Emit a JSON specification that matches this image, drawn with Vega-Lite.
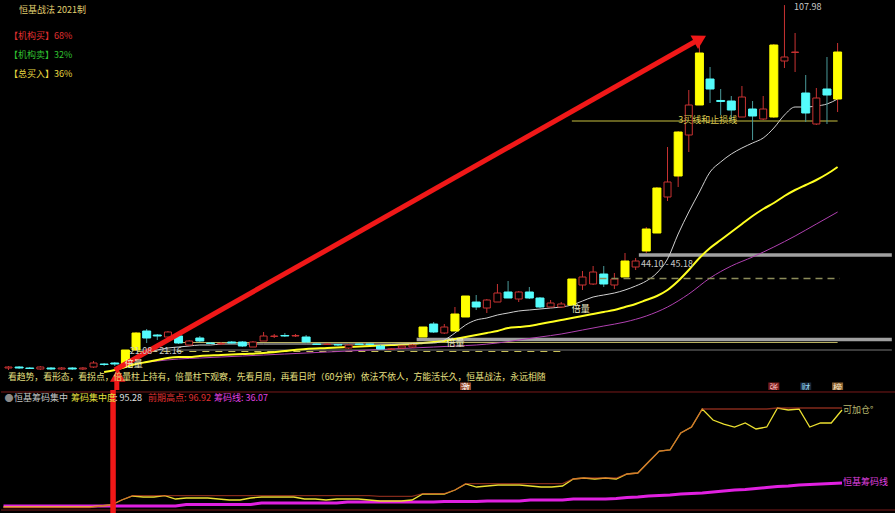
{
  "$schema": "https://vega.github.io/schema/vega-lite/v6.json",
  "background": "#000000",
  "padding": 0,
  "spacing": 0,
  "bounds": "flush",
  "config": {
    "view": {"stroke": null},
    "legend": {"disable": true},
    "text": {"font": "Noto Sans CJK SC", "fontSize": 9, "align": "left", "baseline": "middle"}
  },
  "datasets": {
    "candles": [
      {"i":0,"o":17.25,"c":17.5,"h":17.75,"l":16.75,"t":"up"},
      {"i":1,"o":17.5,"c":17.25,"h":17.75,"l":17.0,"t":"down"},
      {"i":2,"o":17.25,"c":17.13,"h":17.5,"l":17.0,"t":"down"},
      {"i":3,"o":17.0,"c":17.5,"h":17.75,"l":16.75,"t":"up"},
      {"i":4,"o":17.25,"c":17.0,"h":17.5,"l":16.75,"t":"down"},
      {"i":5,"o":17.0,"c":17.25,"h":17.5,"l":16.75,"t":"up"},
      {"i":6,"o":17.25,"c":17.0,"h":17.5,"l":16.75,"t":"down"},
      {"i":7,"o":17.0,"c":17.25,"h":17.5,"l":16.75,"t":"up"},
      {"i":8,"o":17.5,"c":18.5,"h":19.0,"l":17.25,"t":"up"},
      {"i":9,"o":18.25,"c":18.13,"h":18.5,"l":17.75,"t":"down"},
      {"i":10,"o":18.5,"c":18.25,"h":18.75,"l":17.75,"t":"down"},
      {"i":11,"o":17.75,"c":21.75,"h":21.75,"l":17.5,"t":"hot"},
      {"i":12,"o":21.75,"c":26.0,"h":26.25,"l":21.5,"t":"hot"},
      {"i":13,"o":26.5,"c":24.75,"h":27.0,"l":23.5,"t":"down"},
      {"i":14,"o":25.5,"c":25.25,"h":25.75,"l":24.25,"t":"down"},
      {"i":15,"o":25.0,"c":26.25,"h":26.5,"l":24.75,"t":"up"},
      {"i":16,"o":25.25,"c":23.5,"h":25.5,"l":23.25,"t":"down"},
      {"i":17,"o":23.0,"c":24.0,"h":24.25,"l":22.75,"t":"up"},
      {"i":18,"o":24.75,"c":24.0,"h":25.25,"l":23.75,"t":"down"},
      {"i":19,"o":23.5,"c":23.38,"h":23.75,"l":23.25,"t":"down"},
      {"i":20,"o":23.25,"c":23.38,"h":23.75,"l":23.0,"t":"up"},
      {"i":21,"o":23.75,"c":23.5,"h":24.0,"l":23.25,"t":"down"},
      {"i":22,"o":23.75,"c":22.75,"h":24.0,"l":22.5,"t":"down"},
      {"i":23,"o":22.5,"c":23.75,"h":24.0,"l":22.5,"t":"up"},
      {"i":24,"o":24.0,"c":25.25,"h":26.25,"l":24.0,"t":"up"},
      {"i":25,"o":25.13,"c":25.25,"h":25.75,"l":24.75,"t":"up"},
      {"i":26,"o":25.38,"c":25.25,"h":26.0,"l":25.0,"t":"down"},
      {"i":27,"o":25.25,"c":25.38,"h":25.75,"l":25.0,"t":"up"},
      {"i":28,"o":25.0,"c":23.75,"h":25.5,"l":23.5,"t":"down"},
      {"i":29,"o":23.25,"c":23.13,"h":23.5,"l":23.0,"t":"down"},
      {"i":30,"o":23.13,"c":23.25,"h":23.5,"l":23.0,"t":"up"},
      {"i":31,"o":23.13,"c":23.0,"h":23.25,"l":22.75,"t":"down"},
      {"i":32,"o":22.25,"c":23.0,"h":23.25,"l":22.0,"t":"up"},
      {"i":33,"o":23.25,"c":23.13,"h":23.5,"l":23.0,"t":"down"},
      {"i":34,"o":23.25,"c":23.13,"h":23.5,"l":23.0,"t":"down"},
      {"i":35,"o":22.75,"c":22.0,"h":23.0,"l":21.75,"t":"down"},
      {"i":36,"o":21.88,"c":22.0,"h":22.25,"l":21.75,"t":"up"},
      {"i":37,"o":22.25,"c":22.75,"h":23.0,"l":22.0,"t":"up"},
      {"i":38,"o":22.5,"c":23.0,"h":23.25,"l":22.25,"t":"up"},
      {"i":39,"o":25.0,"c":27.5,"h":27.5,"l":25.0,"t":"hot"},
      {"i":40,"o":28.25,"c":26.25,"h":28.75,"l":26.0,"t":"down"},
      {"i":41,"o":26.0,"c":27.5,"h":28.25,"l":25.75,"t":"up"},
      {"i":42,"o":26.5,"c":30.75,"h":32.5,"l":26.5,"t":"hot"},
      {"i":43,"o":30.0,"c":35.25,"h":35.25,"l":30.0,"t":"hot"},
      {"i":44,"o":33.75,"c":32.5,"h":35.5,"l":31.75,"t":"down"},
      {"i":45,"o":32.25,"c":34.25,"h":34.5,"l":31.0,"t":"up"},
      {"i":46,"o":33.75,"c":36.0,"h":38.25,"l":33.75,"t":"up"},
      {"i":47,"o":36.25,"c":34.75,"h":39.0,"l":34.75,"t":"down"},
      {"i":48,"o":34.5,"c":36.25,"h":36.5,"l":33.75,"t":"up"},
      {"i":49,"o":36.25,"c":34.75,"h":37.5,"l":34.5,"t":"down"},
      {"i":50,"o":34.75,"c":32.5,"h":35.0,"l":32.25,"t":"down"},
      {"i":51,"o":32.5,"c":33.5,"h":34.25,"l":32.5,"t":"up"},
      {"i":52,"o":32.5,"c":33.25,"h":33.75,"l":32.25,"t":"up"},
      {"i":53,"o":33.0,"c":39.5,"h":39.5,"l":33.0,"t":"hot"},
      {"i":54,"o":38.0,"c":40.0,"h":41.5,"l":36.75,"t":"up"},
      {"i":55,"o":38.25,"c":41.25,"h":42.75,"l":38.0,"t":"up"},
      {"i":56,"o":40.75,"c":38.25,"h":42.75,"l":37.5,"t":"down"},
      {"i":57,"o":38.0,"c":39.5,"h":41.0,"l":37.0,"t":"up"},
      {"i":58,"o":40.0,"c":44.0,"h":46.0,"l":40.0,"t":"hot"},
      {"i":59,"o":42.5,"c":44.0,"h":44.75,"l":41.75,"t":"up"},
      {"i":60,"o":46.5,"c":52.0,"h":52.5,"l":46.0,"t":"hot"},
      {"i":61,"o":51.0,"c":62.25,"h":62.5,"l":51.0,"t":"hot"},
      {"i":62,"o":60.0,"c":63.75,"h":72.5,"l":59.0,"t":"up"},
      {"i":63,"o":65.25,"c":76.25,"h":76.5,"l":62.5,"t":"hot"},
      {"i":64,"o":75.5,"c":83.0,"h":86.75,"l":71.25,"t":"up"},
      {"i":65,"o":83.0,"c":96.0,"h":98.5,"l":83.0,"t":"hot"},
      {"i":66,"o":89.5,"c":87.0,"h":92.5,"l":83.5,"t":"down"},
      {"i":67,"o":84.13,"c":83.88,"h":87.0,"l":80.5,"t":"down"},
      {"i":68,"o":84.0,"c":81.75,"h":85.25,"l":79.25,"t":"down"},
      {"i":69,"o":80.0,"c":85.0,"h":87.75,"l":80.0,"t":"up"},
      {"i":70,"o":82.0,"c":80.25,"h":84.0,"l":74.25,"t":"down"},
      {"i":71,"o":79.5,"c":82.0,"h":85.25,"l":79.25,"t":"up"},
      {"i":72,"o":80.0,"c":98.0,"h":98.25,"l":79.75,"t":"hot"},
      {"i":73,"o":94.0,"c":95.0,"h":107.98,"l":92.25,"t":"up"},
      {"i":74,"o":96.13,"c":96.25,"h":101.0,"l":91.25,"t":"up"},
      {"i":75,"o":86.0,"c":81.0,"h":90.5,"l":78.75,"t":"down"},
      {"i":76,"o":78.25,"c":84.75,"h":87.25,"l":78.0,"t":"up"},
      {"i":77,"o":87.0,"c":85.5,"h":95.0,"l":78.25,"t":"down"},
      {"i":78,"o":84.5,"c":96.25,"h":98.5,"l":81.25,"t":"hot"}
    ],
    "whiteMA": [
      {"i":12,"v":20.25},{"i":13,"v":21.25},{"i":14,"v":21.75},{"i":15,"v":22.25},{"i":16,"v":22.5},
      {"i":17,"v":22.75},{"i":18,"v":23.0},{"i":19,"v":23.0},{"i":20,"v":23.25},{"i":24,"v":23.25},
      {"i":28,"v":23.25},{"i":32,"v":23.25},{"i":36,"v":23.25},{"i":38,"v":23.3},{"i":39,"v":23.5},
      {"i":40,"v":23.5},{"i":41,"v":24.25},{"i":42,"v":26.0},{"i":43,"v":28.0},{"i":44,"v":29.25},
      {"i":45,"v":29.75},{"i":46,"v":30.5},{"i":47,"v":31.0},{"i":48,"v":31.5},{"i":49,"v":31.75},
      {"i":50,"v":32.0},{"i":51,"v":32.25},{"i":52,"v":32.5},{"i":53,"v":33.0},{"i":54,"v":34.0},
      {"i":55,"v":35.0},{"i":56,"v":35.5},{"i":57,"v":36.0},{"i":58,"v":36.75},{"i":59,"v":37.75},
      {"i":60,"v":39.0},{"i":61,"v":41.0},{"i":62,"v":44.5},{"i":63,"v":50.75},{"i":64,"v":56.25},
      {"i":65,"v":61.25},{"i":66,"v":66.25},{"i":67,"v":68.75},{"i":68,"v":70.75},{"i":69,"v":72.25},
      {"i":70,"v":73.5},{"i":71,"v":74.75},{"i":72,"v":77.25},{"i":73,"v":80.5},{"i":74,"v":82.5},
      {"i":75,"v":82.5},{"i":76,"v":82.75},{"i":77,"v":83.25},{"i":78,"v":84.5}
    ],
    "yellowMA": [
      {"i":9,"v":16.25},{"i":10,"v":16.75},{"i":11,"v":17.5},{"i":12,"v":18.25},{"i":13,"v":18.75},
      {"i":14,"v":19.25},{"i":15,"v":19.75},{"i":16,"v":20.0},{"i":17,"v":20.0},{"i":18,"v":20.25},
      {"i":20,"v":20.5},{"i":22,"v":20.75},{"i":24,"v":21.0},{"i":26,"v":21.5},{"i":28,"v":22.0},
      {"i":30,"v":22.25},{"i":32,"v":22.5},{"i":34,"v":22.75},{"i":36,"v":23.0},{"i":38,"v":23.25},
      {"i":39,"v":23.5},{"i":40,"v":23.75},{"i":41,"v":24.0},{"i":42,"v":24.5},{"i":43,"v":25.0},
      {"i":44,"v":25.5},{"i":45,"v":26.0},{"i":46,"v":26.5},{"i":47,"v":27.25},{"i":48,"v":27.5},
      {"i":49,"v":27.75},{"i":50,"v":28.25},{"i":51,"v":28.75},{"i":52,"v":29.25},{"i":53,"v":29.75},
      {"i":54,"v":30.25},{"i":55,"v":30.75},{"i":56,"v":31.25},{"i":57,"v":31.75},{"i":58,"v":32.5},
      {"i":59,"v":33.25},{"i":60,"v":34.25},{"i":61,"v":35.25},{"i":62,"v":36.75},{"i":63,"v":39.0},
      {"i":64,"v":41.75},{"i":65,"v":44.75},{"i":66,"v":47.25},{"i":67,"v":49.25},{"i":68,"v":51.25},
      {"i":69,"v":53.25},{"i":70,"v":55.25},{"i":71,"v":57.0},{"i":72,"v":58.5},{"i":73,"v":60.25},
      {"i":74,"v":61.75},{"i":75,"v":63.0},{"i":76,"v":64.25},{"i":77,"v":65.75},{"i":78,"v":67.5}
    ],
    "purpleMA": [
      {"i":11,"v":17.5},{"i":12,"v":18.25},{"i":14,"v":19.0},{"i":16,"v":19.5},{"i":18,"v":19.75},
      {"i":20,"v":20.0},{"i":22,"v":20.25},{"i":24,"v":20.5},{"i":26,"v":20.75},{"i":28,"v":21.0},
      {"i":30,"v":21.25},{"i":32,"v":21.5},{"i":34,"v":21.75},{"i":36,"v":22.0},{"i":38,"v":22.25},
      {"i":40,"v":22.5},{"i":42,"v":22.75},{"i":44,"v":23.0},{"i":46,"v":23.5},{"i":48,"v":24.25},
      {"i":50,"v":25.0},{"i":52,"v":25.75},{"i":54,"v":26.75},{"i":56,"v":27.75},{"i":58,"v":28.75},
      {"i":60,"v":30.25},{"i":62,"v":32.5},{"i":64,"v":35.75},{"i":66,"v":39.75},{"i":68,"v":42.75},
      {"i":70,"v":45.0},{"i":72,"v":47.5},{"i":74,"v":50.25},{"i":76,"v":53.25},{"i":78,"v":56.25}
    ],
    "levels": [
      {"start":59.3,"end":83.1,"p":45.5,"kind":"band"},
      {"start":38.4,"end":83.1,"p":24.375,"kind":"band"},
      {"start":53.0,"end":78.0,"p":79.0,"kind":"stop"},
      {"start":16.0,"end":78.0,"p":23.625,"kind":"guide"},
      {"start":11.6,"end":83.1,"p":21.75,"kind":"base"},
      {"start":55.6,"end":78.2,"p":39.625,"kind":"dashA"},
      {"start":10.9,"end":52.3,"p":21.375,"kind":"dashB"}
    ],
    "shafts": [
      {"i":10.0,"p":16.75,"i2":64.7,"p2":99.0},
      {"i":10.19,"p":14.25,"i2":10.19,"p2":11.75}
    ],
    "heads": [
      {"i":65.07,"p":99.52,"dir":61},
      {"i":10.28,"p":15.5,"dir":0}
    ],
    "tags": [
      {"i":43,"p":12.25,"text":"激"},
      {"i":72,"p":12.25,"text":"张"},
      {"i":75,"p":12.25,"text":"财"},
      {"i":78,"p":12.25,"text":"榜"}
    ],
    "notes": [
      {"i":0.98,"p":106.75,"text":"恒基战法 2021制","kind":"title"},
      {"i":0.05,"p":100.25,"text":"【机构买】68%","kind":"buy"},
      {"i":0.05,"p":95.5,"text":"【机构卖】32%","kind":"sell"},
      {"i":0.05,"p":90.75,"text":"【总买入】36%","kind":"total"},
      {"i":73.9,"p":107.5,"text":"107.98","kind":"price"},
      {"i":63.0,"p":79.25,"text":"3买线和止损线","kind":"note"},
      {"i":59.5,"p":43.25,"text":"44.10 - 45.18","kind":"price"},
      {"i":53.0,"p":32.0,"text":"倍量","kind":"vol"},
      {"i":41.2,"p":23.5,"text":"倍量","kind":"vol"},
      {"i":10.93,"p":18.25,"text":"倍量","kind":"vol"},
      {"i":11.4,"p":21.55,"text":"21.08 - 21.16","kind":"price"},
      {"i":-0.05,"p":15.0,"text":"看趋势，看形态，看拐点，倍量柱上持有，倍量柱下观察，先看月周，再看日时（60分钟）依法不依人，方能活长久，恒基战法，永远相随","kind":"motto"}
    ],
    "ind": [
      {"i":0,"conc":16.6,"high":16.19,"chip":17.41},
      {"i":1,"conc":16.6,"high":16.19,"chip":17.41},
      {"i":2,"conc":16.6,"high":16.19,"chip":17.41},
      {"i":3,"conc":16.6,"high":16.19,"chip":17.41},
      {"i":4,"conc":16.6,"high":16.19,"chip":17.41},
      {"i":5,"conc":16.6,"high":16.19,"chip":17.41},
      {"i":6,"conc":16.6,"high":16.19,"chip":17.41},
      {"i":7,"conc":16.6,"high":16.19,"chip":17.41},
      {"i":8,"conc":16.6,"high":16.19,"chip":17.41},
      {"i":9,"conc":17.41,"high":17.41,"chip":17.41},
      {"i":10,"conc":18.22,"high":18.22,"chip":17.41},
      {"i":11,"conc":22.28,"high":22.28,"chip":17.41},
      {"i":12,"conc":25.52,"high":25.77,"chip":17.41},
      {"i":13,"conc":24.71,"high":25.77,"chip":17.41},
      {"i":14,"conc":24.71,"high":25.77,"chip":17.41},
      {"i":15,"conc":25.77,"high":25.77,"chip":17.41},
      {"i":16,"conc":23.09,"high":25.77,"chip":17.41},
      {"i":17,"conc":23.9,"high":25.77,"chip":18.63},
      {"i":18,"conc":23.9,"high":25.77,"chip":18.63},
      {"i":19,"conc":23.9,"high":25.77,"chip":18.63},
      {"i":20,"conc":23.09,"high":25.77,"chip":18.63},
      {"i":21,"conc":22.28,"high":25.77,"chip":18.63},
      {"i":22,"conc":22.28,"high":25.77,"chip":18.63},
      {"i":23,"conc":23.9,"high":25.77,"chip":18.63},
      {"i":24,"conc":24.71,"high":25.77,"chip":19.84},
      {"i":25,"conc":24.71,"high":25.77,"chip":19.84},
      {"i":26,"conc":24.71,"high":25.77,"chip":19.84},
      {"i":27,"conc":24.71,"high":25.77,"chip":19.84},
      {"i":28,"conc":23.09,"high":25.77,"chip":19.84},
      {"i":29,"conc":23.09,"high":25.77,"chip":19.84},
      {"i":30,"conc":22.28,"high":25.77,"chip":19.84},
      {"i":31,"conc":23.09,"high":25.77,"chip":19.84},
      {"i":32,"conc":23.09,"high":25.77,"chip":20.65},
      {"i":33,"conc":23.09,"high":25.77,"chip":20.65},
      {"i":34,"conc":22.28,"high":25.77,"chip":20.65},
      {"i":35,"conc":21.47,"high":25.2,"chip":20.65},
      {"i":36,"conc":21.47,"high":25.2,"chip":20.65},
      {"i":37,"conc":21.47,"high":25.2,"chip":20.65},
      {"i":38,"conc":22.28,"high":25.2,"chip":20.65},
      {"i":39,"conc":27.14,"high":27.4,"chip":20.65},
      {"i":40,"conc":27.14,"high":27.4,"chip":20.65},
      {"i":41,"conc":27.14,"high":27.4,"chip":21.06},
      {"i":42,"conc":30.39,"high":30.39,"chip":21.06},
      {"i":43,"conc":35.26,"high":35.6,"chip":21.06},
      {"i":44,"conc":32.82,"high":35.6,"chip":21.06},
      {"i":45,"conc":33.64,"high":35.6,"chip":21.47},
      {"i":46,"conc":34.45,"high":35.6,"chip":21.47},
      {"i":47,"conc":34.45,"high":35.6,"chip":21.47},
      {"i":48,"conc":34.45,"high":35.6,"chip":21.47},
      {"i":49,"conc":33.64,"high":35.6,"chip":22.28},
      {"i":50,"conc":32.82,"high":35.6,"chip":22.28},
      {"i":51,"conc":32.82,"high":35.6,"chip":22.28},
      {"i":52,"conc":33.64,"high":35.6,"chip":22.28},
      {"i":53,"conc":39.31,"high":39.31,"chip":23.09},
      {"i":54,"conc":40.13,"high":40.13,"chip":23.09},
      {"i":55,"conc":39.31,"high":40.13,"chip":23.09},
      {"i":56,"conc":40.13,"high":40.13,"chip":23.09},
      {"i":57,"conc":39.31,"high":40.13,"chip":23.49},
      {"i":58,"conc":43.37,"high":43.37,"chip":24.31},
      {"i":59,"conc":44.18,"high":44.18,"chip":24.71},
      {"i":60,"conc":53.11,"high":53.11,"chip":25.52},
      {"i":61,"conc":62.03,"high":62.03,"chip":25.93},
      {"i":62,"conc":62.84,"high":62.84,"chip":26.33},
      {"i":63,"conc":76.63,"high":76.63,"chip":27.14},
      {"i":64,"conc":81.5,"high":81.5,"chip":27.55},
      {"i":65,"conc":96.11,"high":96.11,"chip":27.96},
      {"i":66,"conc":87.18,"high":96.11,"chip":28.77},
      {"i":67,"conc":83.93,"high":96.11,"chip":29.58},
      {"i":68,"conc":81.5,"high":96.11,"chip":30.39},
      {"i":69,"conc":84.75,"high":96.11,"chip":30.8},
      {"i":70,"conc":79.88,"high":96.11,"chip":31.61},
      {"i":71,"conc":81.5,"high":96.11,"chip":32.42},
      {"i":72,"conc":96.92,"high":96.92,"chip":33.23},
      {"i":73,"conc":95.29,"high":96.92,"chip":33.64},
      {"i":74,"conc":96.11,"high":96.92,"chip":34.45},
      {"i":75,"conc":81.5,"high":96.92,"chip":34.85},
      {"i":76,"conc":84.75,"high":96.92,"chip":35.26},
      {"i":77,"conc":84.75,"high":96.92,"chip":35.66},
      {"i":78,"conc":95.28,"high":96.92,"chip":36.07}
    ],
    "seps": [{"v":109.9},{"v":14.16}],
    "shaftLow": [{"i":10.19,"v":11.73,"v2":111.52}],
    "indNotes": [
      {"i":0.1,"v":105.03,"text":"●","kind":"icon"},
      {"i":0.98,"v":105.03,"text":"恒基筹码集中","kind":"name"},
      {"i":6.28,"v":105.03,"text":"筹码集中度","kind":"conc"},
      {"i":10.37,"v":105.03,"text":": 95.28","kind":"value"},
      {"i":13.44,"v":105.03,"text":"前期高点: 96.92","kind":"high"},
      {"i":19.58,"v":105.03,"text":"筹码线: 36.07","kind":"chip"},
      {"i":78.1,"v":95.3,"text":"可加仓°","kind":"add"},
      {"i":78.1,"v":36.9,"text":"恒基筹码线","kind":"chip"}
    ]
  },
  "vconcat": [
    {
      "width": 895,
      "height": 390,
      "layer": [
        {
          "data": {"name": "levels"},
          "transform": [{"filter": "datum.kind === 'band'"}],
          "mark": {"type": "rule", "color": "#a0a0a0", "strokeWidth": 3.5, "clip": true},
          "encoding": {
            "x": {"field": "start", "type": "quantitative", "scale": {"domain": [-0.233, 83.023], "nice": false, "zero": false}, "axis": null},
            "x2": {"field": "end"},
            "y": {"field": "p", "type": "quantitative", "scale": {"domain": [11.75, 109.25], "nice": false, "zero": false}, "axis": null}
          }
        },
        {
          "data": {"name": "levels"},
          "transform": [{"filter": "datum.kind === 'stop'"}],
          "mark": {"type": "rule", "color": "#c8c040", "strokeWidth": 1, "clip": true},
          "encoding": {
            "x": {"field": "start", "type": "quantitative", "axis": null},
            "x2": {"field": "end"},
            "y": {"field": "p", "type": "quantitative", "axis": null}
          }
        },
        {
          "data": {"name": "levels"},
          "transform": [{"filter": "datum.kind === 'guide'"}],
          "mark": {"type": "rule", "color": "#b8b060", "strokeWidth": 1, "clip": true},
          "encoding": {
            "x": {"field": "start", "type": "quantitative", "axis": null},
            "x2": {"field": "end"},
            "y": {"field": "p", "type": "quantitative", "axis": null}
          }
        },
        {
          "data": {"name": "levels"},
          "transform": [{"filter": "datum.kind === 'base'"}],
          "mark": {"type": "rule", "color": "#787878", "strokeWidth": 1, "clip": true},
          "encoding": {
            "x": {"field": "start", "type": "quantitative", "axis": null},
            "x2": {"field": "end"},
            "y": {"field": "p", "type": "quantitative", "axis": null}
          }
        },
        {
          "data": {"name": "levels"},
          "transform": [{"filter": "datum.kind === 'dashB'"}],
          "mark": {"type": "rule", "color": "#c8c058", "strokeWidth": 1.2, "strokeDash": [7, 6], "clip": true},
          "encoding": {
            "x": {"field": "start", "type": "quantitative", "axis": null},
            "x2": {"field": "end"},
            "y": {"field": "p", "type": "quantitative", "axis": null}
          }
        },
        {
          "data": {"name": "purpleMA"},
          "mark": {"type": "line", "color": "#b040b0", "strokeWidth": 1, "interpolate": "monotone", "clip": true},
          "encoding": {
            "x": {"field": "i", "type": "quantitative", "axis": null},
            "y": {"field": "v", "type": "quantitative", "axis": null}
          }
        },
        {
          "data": {"name": "yellowMA"},
          "mark": {"type": "line", "color": "#ffff20", "strokeWidth": 2, "interpolate": "monotone", "clip": true},
          "encoding": {
            "x": {"field": "i", "type": "quantitative", "axis": null},
            "y": {"field": "v", "type": "quantitative", "axis": null}
          }
        },
        {
          "data": {"name": "whiteMA"},
          "mark": {"type": "line", "color": "#d0d0d0", "strokeWidth": 1, "interpolate": "monotone", "clip": true},
          "encoding": {
            "x": {"field": "i", "type": "quantitative", "axis": null},
            "y": {"field": "v", "type": "quantitative", "axis": null}
          }
        },
        {
          "data": {"name": "candles"},
          "transform": [{"filter": "datum.t !== 'down'"}],
          "mark": {"type": "rule", "color": "#c83232", "strokeWidth": 1, "clip": true},
          "encoding": {
            "x": {"field": "i", "type": "quantitative", "axis": null},
            "y": {"field": "l", "type": "quantitative", "axis": null},
            "y2": {"field": "h"}
          }
        },
        {
          "data": {"name": "candles"},
          "transform": [{"filter": "datum.t === 'down'"}],
          "mark": {"type": "rule", "color": "#4a9a9a", "strokeWidth": 1, "clip": true},
          "encoding": {
            "x": {"field": "i", "type": "quantitative", "axis": null},
            "y": {"field": "l", "type": "quantitative", "axis": null},
            "y2": {"field": "h"}
          }
        },
        {
          "data": {"name": "candles"},
          "transform": [{"filter": "datum.t === 'hot'"}],
          "mark": {"type": "bar", "width": 8, "fill": "#ffff00", "stroke": "#ffff00", "strokeWidth": 1, "clip": true},
          "encoding": {
            "x": {"field": "i", "type": "quantitative", "axis": null},
            "y": {"field": "o", "type": "quantitative", "axis": null},
            "y2": {"field": "c"}
          }
        },
        {
          "data": {"name": "candles"},
          "transform": [{"filter": "datum.t === 'up'"}],
          "mark": {"type": "bar", "width": 7, "fill": "#000000", "stroke": "#c83232", "strokeWidth": 1, "clip": true},
          "encoding": {
            "x": {"field": "i", "type": "quantitative", "axis": null},
            "y": {"field": "o", "type": "quantitative", "axis": null},
            "y2": {"field": "c"}
          }
        },
        {
          "data": {"name": "candles"},
          "transform": [{"filter": "datum.t === 'down'"}],
          "mark": {"type": "bar", "width": 8, "fill": "#54fcfc", "stroke": "#54fcfc", "strokeWidth": 1, "clip": true},
          "encoding": {
            "x": {"field": "i", "type": "quantitative", "axis": null},
            "y": {"field": "o", "type": "quantitative", "axis": null},
            "y2": {"field": "c"}
          }
        },
        {
          "data": {"name": "levels"},
          "transform": [{"filter": "datum.kind === 'dashA'"}],
          "mark": {"type": "rule", "color": "#8c8c5a", "strokeWidth": 1.5, "strokeDash": [7, 5], "clip": true},
          "encoding": {
            "x": {"field": "start", "type": "quantitative", "axis": null},
            "x2": {"field": "end"},
            "y": {"field": "p", "type": "quantitative", "axis": null}
          }
        },
        {
          "data": {"name": "shafts"},
          "mark": {"type": "rule", "color": "#f01818", "strokeWidth": 5, "clip": true},
          "encoding": {
            "x": {"field": "i", "type": "quantitative", "axis": null},
            "y": {"field": "p", "type": "quantitative", "axis": null},
            "x2": {"field": "i2"},
            "y2": {"field": "p2"}
          }
        },
        {
          "data": {"name": "heads"},
          "mark": {"type": "point", "shape": "triangle-up", "filled": true, "color": "#f01818", "opacity": 1, "size": 240, "clip": true},
          "encoding": {
            "x": {"field": "i", "type": "quantitative", "axis": null},
            "y": {"field": "p", "type": "quantitative", "axis": null},
            "angle": {"field": "dir", "type": "quantitative", "scale": null}
          }
        },
        {
          "data": {"name": "tags"},
          "mark": {"type": "point", "shape": "square", "filled": true, "opacity": 1, "size": 121, "clip": true},
          "encoding": {
            "x": {"field": "i", "type": "quantitative", "axis": null},
            "y": {"field": "p", "type": "quantitative", "axis": null},
            "color": {"field": "text", "type": "nominal", "legend": null,
              "scale": {"domain": ["激", "张", "财", "榜"], "range": ["#9a4a2a", "#7a1e1e", "#1a2838", "#8a6030"]}}
          }
        },
        {
          "data": {"name": "tags"},
          "mark": {"type": "text", "align": "center", "fontSize": 9, "clip": true},
          "encoding": {
            "x": {"field": "i", "type": "quantitative", "axis": null},
            "y": {"field": "p", "type": "quantitative", "axis": null},
            "text": {"field": "text"},
            "color": {"field": "text", "type": "nominal", "legend": null,
              "scale": {"domain": ["激", "张", "财", "榜"], "range": ["#ffffff", "#ffc0c0", "#90d0f0", "#f8e8c8"]}}
          }
        },
        {
          "data": {"name": "notes"},
          "transform": [{"filter": "datum.kind !== 'motto'"}],
          "mark": {"type": "text", "clip": true},
          "encoding": {
            "x": {"field": "i", "type": "quantitative", "axis": null},
            "y": {"field": "p", "type": "quantitative", "axis": null},
            "text": {"field": "text"},
            "color": {"field": "kind", "type": "nominal", "legend": null,
              "scale": {"domain": ["title", "buy", "sell", "total", "price", "note", "vol"],
                        "range": ["#e0d070", "#e03030", "#30c030", "#e8d840", "#c8c8c8", "#d8c850", "#f0f0c8"]}}
          }
        },
        {
          "data": {"name": "notes"},
          "transform": [{"filter": "datum.kind === 'motto'"}],
          "mark": {"type": "text", "fontSize": 8.8, "color": "#e8e080", "clip": true},
          "encoding": {
            "x": {"field": "i", "type": "quantitative", "axis": null},
            "y": {"field": "p", "type": "quantitative", "axis": null},
            "text": {"field": "text"}
          }
        }
      ],
      "resolve": {"scale": {"color": "independent"}}
    },
    {
      "width": 895,
      "height": 123,
      "layer": [
        {
          "data": {"name": "seps"},
          "mark": {"type": "rule", "color": "#7a1a1a", "strokeWidth": 1},
          "encoding": {
            "y": {"field": "v", "type": "quantitative", "scale": {"domain": [11.73, 111.52], "nice": false, "zero": false}, "axis": null}
          }
        },
        {
          "data": {"name": "ind"},
          "mark": {"type": "line", "color": "#e020e0", "strokeWidth": 3, "clip": true},
          "encoding": {
            "x": {"field": "i", "type": "quantitative", "scale": {"domain": [-0.233, 83.023], "nice": false, "zero": false}, "axis": null},
            "y": {"field": "chip", "type": "quantitative", "axis": null}
          }
        },
        {
          "data": {"name": "ind"},
          "mark": {"type": "line", "color": "#ece030", "strokeWidth": 1.3, "clip": true},
          "encoding": {
            "x": {"field": "i", "type": "quantitative", "axis": null},
            "y": {"field": "conc", "type": "quantitative", "axis": null}
          }
        },
        {
          "data": {"name": "ind"},
          "mark": {"type": "line", "color": "#c8402a", "opacity": 0.65, "strokeWidth": 1.3, "clip": true},
          "encoding": {
            "x": {"field": "i", "type": "quantitative", "axis": null},
            "y": {"field": "high", "type": "quantitative", "axis": null}
          }
        },
        {
          "data": {"name": "shaftLow"},
          "mark": {"type": "rule", "color": "#f01818", "strokeWidth": 5.5, "clip": true},
          "encoding": {
            "x": {"field": "i", "type": "quantitative", "axis": null},
            "y": {"field": "v", "type": "quantitative", "axis": null},
            "y2": {"field": "v2"}
          }
        },
        {
          "data": {"name": "indNotes"},
          "mark": {"type": "text", "clip": true},
          "encoding": {
            "x": {"field": "i", "type": "quantitative", "axis": null},
            "y": {"field": "v", "type": "quantitative", "axis": null},
            "text": {"field": "text"},
            "color": {"field": "kind", "type": "nominal", "legend": null,
              "scale": {"domain": ["icon", "name", "conc", "value", "high", "chip", "add"],
                        "range": ["#8a8a8a", "#c8c8c8", "#e8e040", "#e0e0e0", "#e03030", "#e040e0", "#b8b870"]}}
          }
        }
      ]
    }
  ],
  "resolve": {"scale": {"color": "independent"}}
}
